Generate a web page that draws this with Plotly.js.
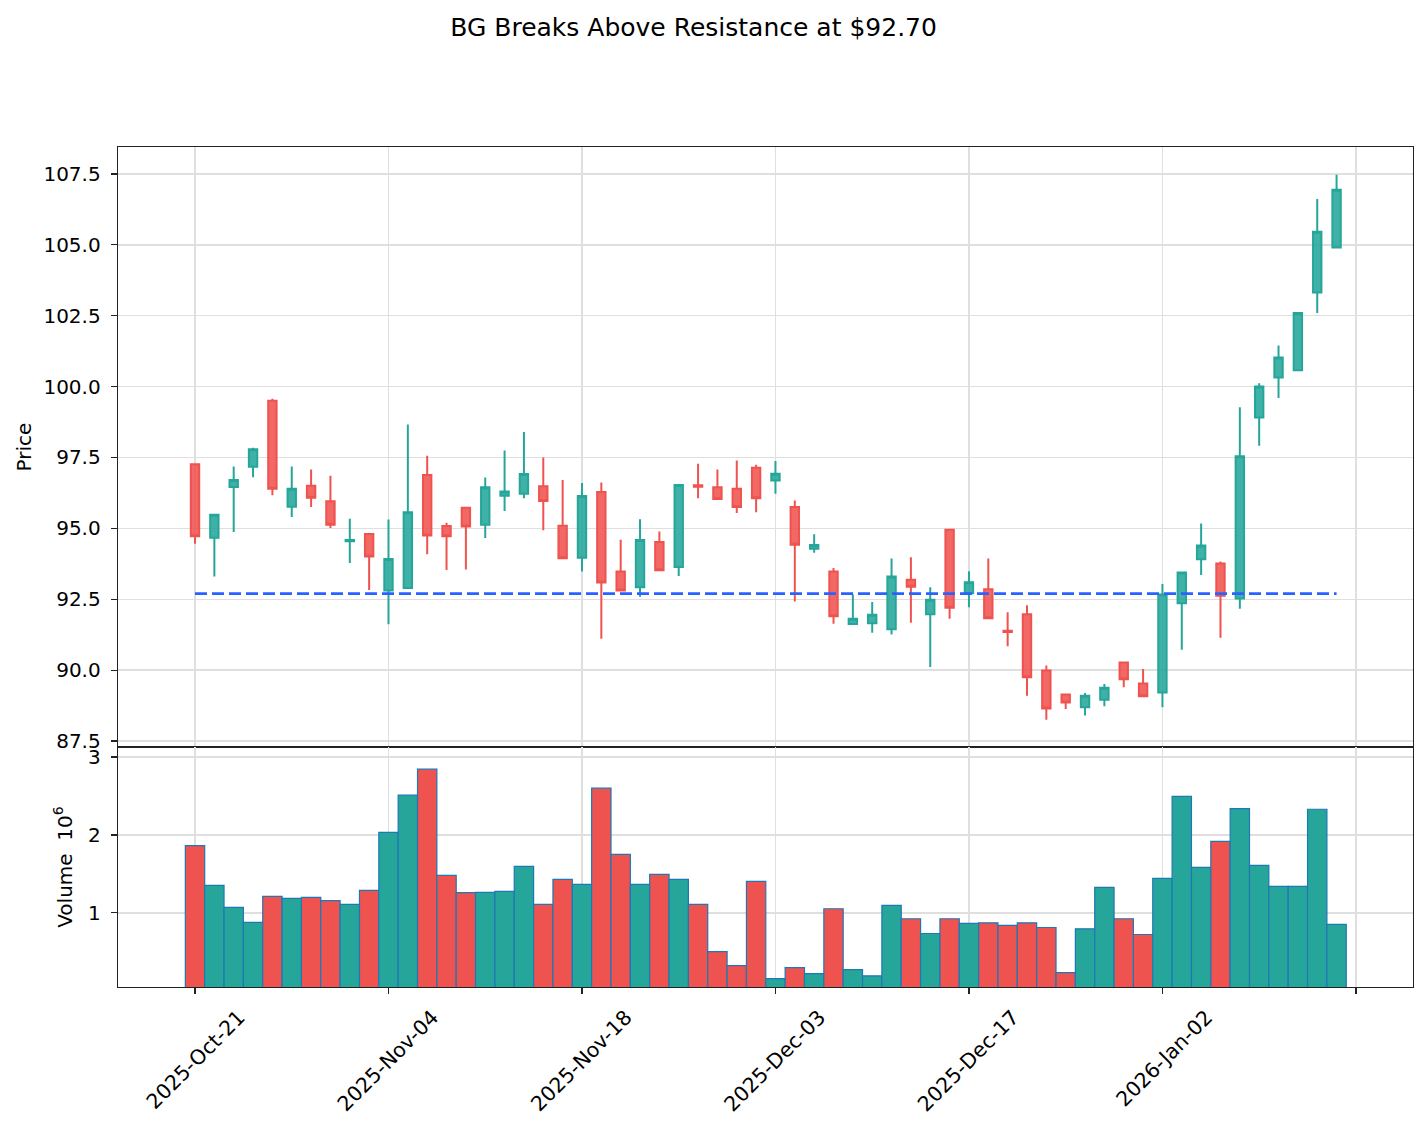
<!DOCTYPE html>
<html>
<head>
<meta charset="utf-8">
<script src="https://cdn.plot.ly/plotly-3.0.1.min.js"></script>
<style>
  html, body { margin: 0; padding: 0; background: #fff; }
  #chart { width: 1428px; height: 1126px; }
</style>
</head>
<body>
<div id="chart"></div>
<script>
// Daily OHLC for BG, one entry per trading session (2025-10-21 .. 2026-01-15)
const openPrices = [
  97.26, 94.67, 96.46, 97.17, 99.50, 95.76, 96.50, 95.96, 94.55, 94.80,
  92.81, 92.90, 96.88, 95.08, 95.73, 95.13, 96.15, 96.22, 96.49, 95.09,
  93.96, 96.28, 93.48, 92.92, 94.52, 93.64, 96.52, 96.45, 96.40, 97.14,
  96.69, 95.75, 94.28, 93.48, 91.63, 91.65, 91.44, 93.19, 91.97, 94.95,
  92.71, 92.85, 91.39, 91.97, 89.99, 89.14, 88.69, 88.96, 90.27, 89.53,
  89.21, 92.36, 93.91, 93.76, 92.53, 98.91, 100.32, 100.58, 103.32, 104.91
];
const highPrices = [
  97.30, 95.52, 97.18, 97.84, 99.57, 97.18, 97.08, 96.86, 95.34, 94.82,
  95.31, 98.66, 97.56, 95.20, 95.75, 96.79, 97.75, 98.40, 97.50, 96.71,
  96.60, 96.62, 94.60, 95.32, 94.89, 96.55, 97.28, 97.08, 97.39, 97.24,
  97.38, 95.98, 94.79, 93.60, 92.67, 92.40, 93.94, 93.98, 92.92, 94.97,
  93.49, 93.94, 92.04, 92.29, 90.16, 89.16, 89.19, 89.51, 90.29, 90.04,
  93.04, 93.46, 95.17, 93.83, 99.27, 100.12, 101.45, 102.62, 106.62, 107.47
];
const lowPrices = [
  94.46, 93.30, 94.87, 96.80, 96.17, 95.40, 95.75, 95.01, 93.78, 92.83,
  91.62, 92.88, 94.09, 93.53, 93.55, 94.66, 95.61, 96.06, 94.93, 93.92,
  93.48, 91.11, 92.77, 92.59, 93.50, 93.32, 96.06, 96.00, 95.54, 95.57,
  96.22, 92.42, 94.14, 91.64, 91.60, 91.32, 91.26, 91.67, 90.11, 91.81,
  92.22, 91.80, 90.84, 89.10, 88.25, 88.63, 88.40, 88.73, 89.40, 89.06,
  88.69, 90.72, 93.36, 91.14, 92.17, 97.91, 99.60, 100.56, 102.60, 104.89
];
const closePrices = [
  94.72, 95.48, 96.71, 97.79, 96.40, 96.40, 96.08, 95.13, 94.59, 94.01,
  93.92, 95.57, 94.75, 94.72, 95.07, 96.45, 96.30, 96.92, 95.97, 93.95,
  96.14, 93.09, 92.81, 94.59, 93.52, 96.53, 96.47, 96.04, 95.75, 96.06,
  96.93, 94.42, 94.41, 91.90, 91.81, 91.95, 93.30, 92.94, 92.48, 92.20,
  93.10, 91.83, 91.35, 89.75, 88.65, 88.86, 89.10, 89.38, 89.68, 89.08,
  92.67, 93.44, 94.40, 92.62, 97.54, 100.00, 101.03, 102.60, 105.46, 106.94
];
// Session volume, in millions of shares
const volumeMillions = [
  1.863, 1.352, 1.069, 0.876, 1.210, 1.185, 1.197, 1.155, 1.107, 1.288,
  2.034, 2.511, 2.845, 1.481, 1.258, 1.262, 1.275, 1.597, 1.107, 1.429,
  1.365, 2.601, 1.751, 1.365, 1.494, 1.429, 1.107, 0.502, 0.322, 1.403,
  0.155, 0.296, 0.219, 1.052, 0.270, 0.189, 1.094, 0.923, 0.734, 0.923,
  0.863, 0.871, 0.837, 0.871, 0.811, 0.232, 0.794, 1.326, 0.923, 0.721,
  1.442, 2.494, 1.584, 1.918, 2.339, 1.609, 1.339, 1.339, 2.330, 0.850
];
// Date labels every ten sessions
const tickPositions = [0, 10, 20, 30, 40, 50, 60];
const tickLabels = ['2025-Oct-21', '2025-Nov-04', '2025-Nov-18', '2025-Dec-03', '2025-Dec-17', '2026-Jan-02', ''];
const resistanceLevel = 92.70;
const priceTicks = [87.5, 90.0, 92.5, 95.0, 97.5, 100.0, 102.5, 105.0, 107.5];
const volumeTicks = [1, 2, 3];

const UP = '#26a69a';
const DOWN = '#ef5350';
const GRID = '#dfdfdf';
const FRAME = '#222222';

const sessions = openPrices.map((_, i) => i);
const volColors = sessions.map(i => closePrices[i] >= openPrices[i] ? UP : DOWN);

const candles = {
  type: 'candlestick',
  x: sessions,
  open: openPrices, high: highPrices, low: lowPrices, close: closePrices,
  xaxis: 'x', yaxis: 'y',
  increasing: { line: { color: UP, width: 2 }, fillcolor: 'rgba(38,166,154,0.88)' },
  decreasing: { line: { color: DOWN, width: 2 }, fillcolor: 'rgba(239,83,80,0.88)' },
  whiskerwidth: 0,
  hoverinfo: 'skip'
};

const resistance = {
  type: 'scatter', mode: 'lines',
  x: [sessions[0], sessions[sessions.length - 1]],
  y: [resistanceLevel, resistanceLevel],
  xaxis: 'x', yaxis: 'y',
  line: { color: '#2962ff', width: 2.6, dash: '12px,5px' },
  hoverinfo: 'skip'
};

const volume = {
  type: 'bar',
  x: sessions, y: volumeMillions,
  xaxis: 'x2', yaxis: 'y2',
  width: 1,
  marker: { color: volColors, line: { color: '#1f77b4', width: 1.2 } },
  hoverinfo: 'skip'
};

const vMin = 0.3 * Math.min(...volumeMillions);
const vMax = 1.1 * Math.max(...volumeMillions);
const xRange = [-3.98, 62.95];
const split = 240 / 840;

const frameAxis = {
  showline: true, mirror: true, linecolor: FRAME, linewidth: 1.3,
  showgrid: true, gridcolor: GRID, gridwidth: 1.5, zeroline: false,
  tickcolor: FRAME, tickwidth: 1.3, ticklen: 6
};

const layout = {
  width: 1428, height: 1126,
  margin: { l: 118, r: 15, t: 147, b: 139, pad: 0 },
  paper_bgcolor: '#ffffff', plot_bgcolor: '#ffffff',
  font: { family: 'DejaVu Sans, sans-serif', size: 20, color: '#000' },
  showlegend: false,
  boxgap: 0.38,
  title: {
    text: 'BG Breaks Above Resistance at $92.70',
    xref: 'container', x: 0.4857, xanchor: 'center',
    yref: 'container', y: 1 - 27 / 1126, yanchor: 'middle',
    font: { size: 25 }
  },
  xaxis: Object.assign({}, frameAxis, {
    domain: [0, 1], anchor: 'y', range: xRange,
    tickmode: 'array', tickvals: tickPositions, showticklabels: false, ticks: '',
    rangeslider: { visible: false }
  }),
  yaxis: Object.assign({}, frameAxis, {
    domain: [split, 1], anchor: 'x', range: [87.29, 108.45],
    tickmode: 'array', tickvals: priceTicks, tickformat: '.1f', ticks: 'outside',
    ticklabelstandoff: 6,
    title: { text: 'Price', standoff: 6, font: { size: 20 } }
  }),
  xaxis2: Object.assign({}, frameAxis, {
    domain: [0, 1], anchor: 'y2', range: xRange,
    tickmode: 'array', tickvals: tickPositions, ticktext: tickLabels,
    tickangle: -45, ticks: 'outside', ticklabelshift: 44, ticklabelstandoff: 3,
    tickfont: { size: 20.5 }
  }),
  yaxis2: Object.assign({}, frameAxis, {
    domain: [0, split], anchor: 'x2', range: [vMin, vMax],
    tickmode: 'array', tickvals: volumeTicks, ticks: 'outside',
    ticklabelstandoff: 6,
    title: { text: 'Volume  10<sup>6</sup>', standoff: 10, font: { size: 20 } }
  })
};

Plotly.newPlot('chart', [candles, resistance, volume], layout, { displayModeBar: false, staticPlot: true });
</script>
</body>
</html>
